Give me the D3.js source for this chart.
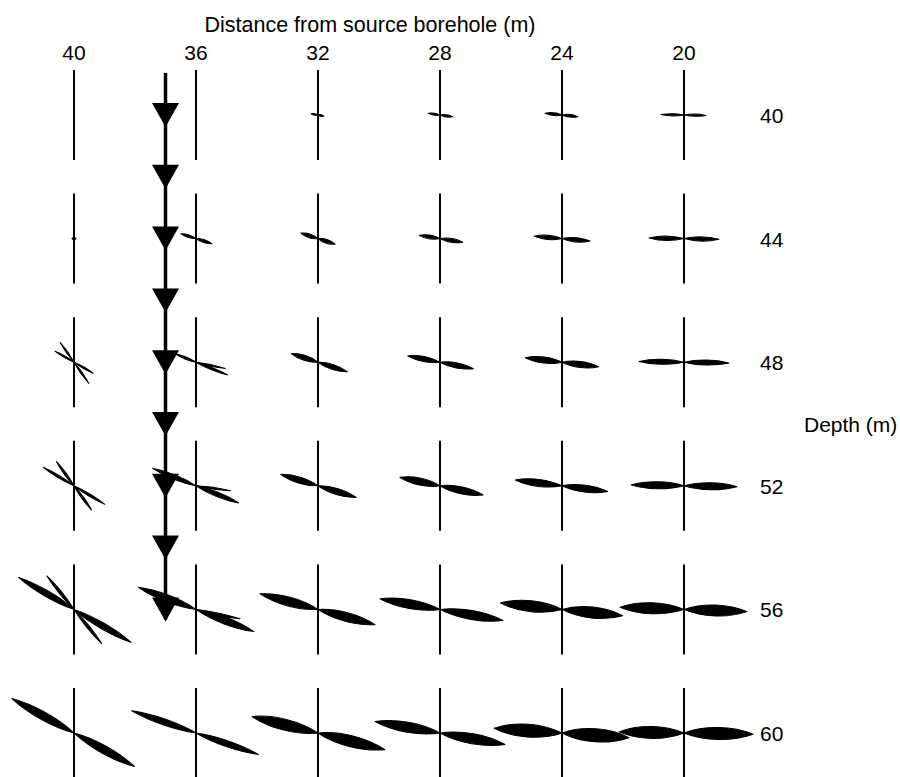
<!DOCTYPE html>
<html>
<head>
<meta charset="utf-8">
<script src="https://cdn.jsdelivr.net/npm/d3@7"></script>
<style>
body { margin: 0; background: #fff; }
text { font-family: "Liberation Sans", Arial, Helvetica, sans-serif; fill: #000; }
</style>
</head>
<body>
<svg id="chart"></svg>
<script>
// distances (m) across, depths (m) down
const distances = [40, 36, 32, 28, 24, 20];
const depths = [40, 44, 48, 52, 56, 60];

// source arrow: sits at ~37 m, one triangle every 2 m of depth
const arrowDistance = 37;
const arrowDepths = [40, 42, 44, 46, 48, 50, 52, 54, 56];

// particle motion per cell, one entry per distance:
// [angle (deg), amplitude left, amplitude right, thickness]
const motion40 = [[0, 0, 0, 0], [0, 0, 0, 0], [10, 7, 6, 1.5], [8, 12, 13, 2], [6, 17, 16, 2.5], [1, 23, 22, 2]];
const motion44 = [[0, 2, 2, 2], [18, 16, 17, 2.5], [18, 18, 18, 3.5], [9, 21, 23, 3.5], [5, 28, 28, 4], [1, 35, 35, 4]];
const motion48 = [[30, 22, 22, 1.5], [22, 22, 34, 2], [18, 28, 31, 5], [11, 33, 34, 5], [7, 37, 37, 6], [1, 45, 45, 5]];
const motion52 = [[31, 36, 36, 2], [22, 47, 46, 4.5], [17, 39, 40, 6], [12, 41, 44, 7], [7, 47, 46, 7], [1, 53, 53, 7]];
const motion56 = [[30, 64, 66, 6], [21, 62, 62, 7], [15, 60, 59, 9], [10, 61, 64, 9], [6, 62, 61, 11], [2, 64, 63, 11]];
const motion60 = [[29, 71, 69, 8], [19, 68, 66, 6], [14, 68, 69, 11], [10, 66, 66, 10], [4, 68, 67, 13], [1, 65, 69, 12]];

// second (split) branch where the motion is not linear
const splitDist = [40, 36, 40, 36, 40, 36];
const splitDepth = [48, 48, 52, 52, 56, 56];
const splitMotion = [[55, 24, 26, 1.5], [12, 0, 30, 1.5], [54, 30, 30, 2], [8, 0, 35, 1.5], [51, 43, 44, 2.5], [12, 0, 45, 2]];

const width = 900;
const height = 777;

const svg = d3.select("#chart")
    .attr("width", width)
    .attr("height", height);

var xScale = d3.scaleLinear()
    .domain([40, 20])
    .range([74, 684]);

var yScale = d3.scaleLinear()
    .domain([40, 60])
    .range([115, 733]);

var ampScale = d3.scaleLinear()
    .domain([0, 70])
    .range([0, 70]);

const allMotion = [motion40, motion44, motion48, motion52, motion56, motion60];
var cells = [];
depths.forEach(function (dep, i) {
    distances.forEach(function (dist, j) {
        const m = allMotion[i][j];
        cells.push({dist: dist, depth: dep, angle: m[0], left: m[1], right: m[2], w: m[3]});
    });
});
splitDist.forEach(function (dist, k) {
    const m = splitMotion[k];
    cells.push({dist: dist, depth: splitDepth[k], angle: m[0], left: m[1], right: m[2], w: m[3]});
});

// one leaf-shaped lobe from the centre out to len (negative = left)
function lobe(len, w) {
    if (!len) return "";
    const c = w / 1.5;
    return "M0,0 C" + len * 0.3 + "," + c + " " + len * 0.7 + "," + c + " " + len + ",0" +
        " C" + len * 0.7 + "," + (-c) + " " + len * 0.3 + "," + (-c) + " 0,0Z";
}

// title
svg.append("text")
    .attr("x", 370)
    .attr("y", 32)
    .attr("text-anchor", "middle")
    .style("font-size", "21.5px")
    .text("Distance from source borehole (m)");

// distance labels
svg.selectAll(".dist-label")
    .data(distances)
    .enter().append("text")
    .attr("class", "dist-label")
    .attr("x", d => xScale(d))
    .attr("y", 60)
    .attr("text-anchor", "middle")
    .style("font-size", "21px")
    .text(d => d);

// depth labels
svg.selectAll(".depth-label")
    .data(depths)
    .enter().append("text")
    .attr("class", "depth-label")
    .attr("x", 760)
    .attr("y", d => yScale(d) + 8)
    .style("font-size", "21px")
    .text(d => d);

svg.append("text")
    .attr("x", 804)
    .attr("y", (yScale(48) + yScale(52)) / 2 + 8)
    .style("font-size", "21px")
    .text("Depth (m)");

// vertical reference lines
var grid = [];
depths.forEach(dep => distances.forEach(dist => grid.push({dist: dist, depth: dep})));
svg.selectAll(".vline")
    .data(grid)
    .enter().append("line")
    .attr("class", "vline")
    .attr("x1", d => xScale(d.dist))
    .attr("x2", d => xScale(d.dist))
    .attr("y1", d => yScale(d.depth) - 45)
    .attr("y2", d => yScale(d.depth) + 45)
    .attr("stroke", "#000")
    .attr("stroke-width", 2);

// particle motion lobes
var g = svg.selectAll(".motion")
    .data(cells)
    .enter().append("g")
    .attr("class", "motion")
    .attr("transform", d => "translate(" + xScale(d.dist) + "," + yScale(d.depth) + ") rotate(" + d.angle + ")");

g.append("path")
    .attr("d", d => lobe(-ampScale(d.left), d.w) + lobe(ampScale(d.right), d.w))
    .attr("fill", "#000")
    .attr("stroke", "#000")
    .attr("stroke-width", 1)
    .attr("stroke-linejoin", "round");

// source arrow
svg.append("line")
    .attr("x1", xScale(arrowDistance))
    .attr("x2", xScale(arrowDistance))
    .attr("y1", yScale(40) - 42)
    .attr("y2", yScale(56) + 10)
    .attr("stroke", "#000")
    .attr("stroke-width", 3.5);

svg.selectAll(".tri")
    .data(arrowDepths)
    .enter().append("path")
    .attr("class", "tri")
    .attr("transform", d => "translate(" + xScale(arrowDistance) + "," + yScale(d) + ")")
    .attr("d", "M-13.5,-12 L13.5,-12 L0,12 Z")
    .attr("fill", "#000");
</script>
</body>
</html>
